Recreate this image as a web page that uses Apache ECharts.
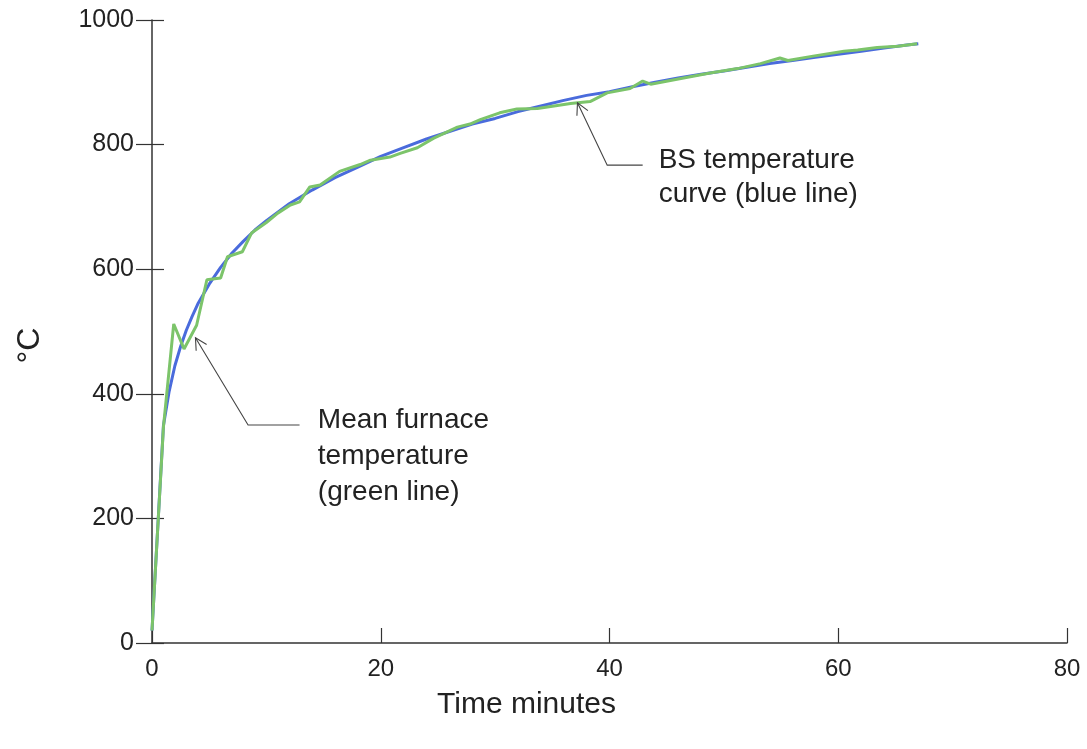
<!DOCTYPE html>
<html>
<head>
<meta charset="utf-8">
<title>Furnace temperature</title>
<script src="https://cdn.jsdelivr.net/npm/echarts@6/dist/echarts.min.js"></script>
<style>
  html, body { margin: 0; padding: 0; background: #fff; }
  #main { width: 1087px; height: 749px; }
</style>
</head>
<body>
<div id="main"></div>
<script>
// BS temperature curve (blue line)
var blueTime = [0, 1, 1.5, 2, 2.5, 3, 3.5, 4, 5, 6, 7, 8, 9, 10, 12, 14, 16, 18, 20, 22, 24, 26, 28, 30,
  32, 34, 36, 38, 40, 42, 44, 46, 48, 50, 52, 54, 56, 58, 60, 62, 64, 66, 67];
var blueTemp = [20, 349, 404, 445, 476, 502, 524, 544, 576, 603, 626, 645, 663, 678, 705, 727, 747, 764, 781, 795, 809, 821, 833, 842,
  853, 862, 871, 879, 885, 893, 900, 907, 913, 918, 924, 930, 935, 940, 945, 950, 955, 960, 962];

// Mean furnace temperature (green line)
var greenTime = [0, 1, 1.9, 2.8, 3.9, 4.8, 6.0, 6.6, 7.9, 8.7, 10, 11, 12.1, 12.9, 13.8, 14.7, 16.4, 18.2, 19.1,
  20.8, 21.7, 23.2, 24.6, 26.7, 27.8, 28.7, 30.4, 31.9, 33.7, 36.6, 38.3, 39.8, 41.8, 42.9, 43.6, 45.9,
  48.8, 51.2, 53.2, 54.9, 55.6, 57.8, 60.5, 61.7, 63.4, 65.2, 66.9];
var greenTemp = [20, 347, 512, 472, 510, 583, 586, 620, 628, 658, 675, 690, 703, 708, 732, 735, 757, 768, 775,
  780, 786, 795, 810, 828, 833, 840, 851, 857, 858, 866, 869, 883, 890, 902, 897, 905,
  915, 922, 930, 939, 935, 942, 950, 952, 956, 958, 962];

// axis ticks
var xMin = 0, xMax = 80, xStep = 20;
var yMin = 0, yMax = 1000, yStep = 200;

// annotations: arrow tip, elbow, end of leader line (data coords)
var bsLabel = ['BS temperature', 'curve (blue line)'];
var bsArrow = [[37.2, 867], [39.8, 767], [42.9, 767]];
var meanLabel = ['Mean furnace', 'temperature', '(green line)'];
var meanArrow = [[3.8, 490], [8.4, 350], [12.9, 350]];

function pairs(xs, ys) {
  return xs.map(function (x, i) { return [x, ys[i]]; });
}

var font = 'Liberation Sans, Arial, Helvetica, sans-serif';
var chart = echarts.init(document.getElementById('main'));

var option = {
  backgroundColor: '#fff',
  animation: false,
  grid: { left: 152, right: 20, top: 20, bottom: 106, containLabel: false },
  xAxis: {
    type: 'value',
    min: xMin, max: xMax, interval: xStep,
    name: 'Time minutes',
    nameLocation: 'middle',
    nameGap: 47,
    nameTextStyle: { fontFamily: font, fontSize: 30, color: '#222', padding: [0, 166, 0, 0] },
    axisLine: { lineStyle: { color: '#333', width: 1.5 } },
    axisTick: { inside: true, length: 15, lineStyle: { color: '#333', width: 1.2 } },
    axisLabel: { fontFamily: font, fontSize: 24, color: '#222', margin: 14 },
    splitLine: { show: false }
  },
  yAxis: [{
    type: 'value',
    min: yMin, max: yMax, interval: yStep,
    name: '°C',
    nameLocation: 'middle',
    nameGap: 106,
    nameTextStyle: { fontFamily: font, fontSize: 32, color: '#222', padding: [0, 28, 0, 0] },
    axisLine: { lineStyle: { color: '#333', width: 1.5 } },
    axisTick: { length: 16, lineStyle: { color: '#333', width: 1.2 } },
    axisLabel: { fontFamily: font, fontSize: 25, color: '#222', margin: 18, formatter: function (v) { return String(v); } },
    splitLine: { show: false }
  }, {
    // inner half of the crossing ticks
    type: 'value',
    position: 'left',
    offset: 0,
    min: yMin, max: yMax, interval: yStep,
    axisLine: { show: false },
    axisTick: { inside: true, length: 12, lineStyle: { color: '#333', width: 1.2 } },
    axisLabel: { show: false },
    splitLine: { show: false }
  }],
  series: [{
    name: 'BS temperature curve',
    type: 'line',
    data: pairs(blueTime, blueTemp),
    symbol: 'none',
    lineStyle: { color: '#4a6bdc', width: 3 },
    z: 2
  }, {
    name: 'Mean furnace temperature',
    type: 'line',
    data: pairs(greenTime, greenTemp),
    symbol: 'none',
    lineStyle: { color: '#7cc46a', width: 3 },
    z: 3
  }]
};
chart.setOption(option);

function px(p) { return chart.convertToPixel({ gridIndex: 0 }, p); }

function arrowGraphics(pts) {
  var tip = px(pts[0]), elbow = px(pts[1]), end = px(pts[2]);
  var dx = elbow[0] - tip[0], dy = elbow[1] - tip[1];
  var len = Math.sqrt(dx * dx + dy * dy);
  var ux = dx / len, uy = dy / len;
  var a = 28 * Math.PI / 180, h = 13;
  function rot(ang) {
    return [tip[0] + h * (ux * Math.cos(ang) - uy * Math.sin(ang)),
            tip[1] + h * (ux * Math.sin(ang) + uy * Math.cos(ang))];
  }
  var style = { stroke: '#444', lineWidth: 1.1, fill: null };
  return [
    { type: 'polyline', shape: { points: [end, elbow, tip] }, style: style, z: 10 },
    { type: 'polyline', shape: { points: [rot(a), tip, rot(-a)] }, style: style, z: 10 }
  ];
}

function labelGraphic(lines, p, lh) {
  var pos = px(p);
  return {
    type: 'text',
    x: pos[0], y: pos[1],
    style: {
      text: lines.join('\n'),
      font: '28px ' + font,
      fill: '#222',
      lineHeight: lh,
      align: 'left',
      verticalAlign: 'top'
    },
    z: 10
  };
}

var graphics = []
  .concat(arrowGraphics(bsArrow))
  .concat(arrowGraphics(meanArrow))
  .concat([labelGraphic(bsLabel, [44.3, 802], 34), labelGraphic(meanLabel, [14.5, 387], 36)]);

chart.setOption({ graphic: graphics });
</script>
</body>
</html>
